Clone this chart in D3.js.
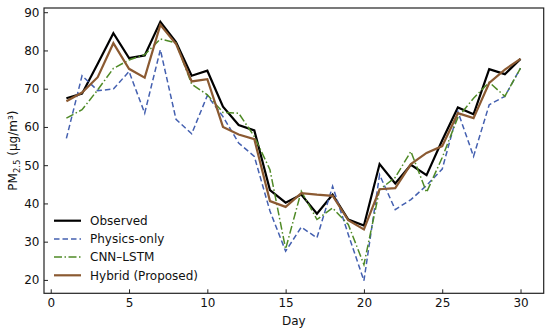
<!DOCTYPE html>
<html>
<head>
<meta charset="utf-8">
<script src="https://cdn.jsdelivr.net/npm/d3@7"></script>
<style>
  body { margin: 0; background: #fff; }
  svg { display: block; font-family: "DejaVu Sans", sans-serif; }
</style>
</head>
<body>
<div id="chart"></div>
<script>
// datos
const days = [1, 2, 3, 4, 5, 6, 7, 8, 9, 10, 11, 12, 13, 14, 15, 16, 17, 18, 19, 20, 21, 22, 23, 24, 25, 26, 27, 28, 29, 30];
const observed = [67.5, 68.7, 76.5, 84.5, 78, 78.7, 87.5, 82.2, 73.4, 74.7, 65.3, 60.5, 59.1, 43.5, 40.2, 42.3, 37.3, 42.3, 35.8, 34.2, 50.3, 45.2, 50.1, 47.4, 56.5, 65.1, 63.3, 75.1, 73.8, 77.8];
const physicsOnly = [57, 73.4, 69.5, 69.9, 74.5, 63.6, 80.2, 62, 58.2, 68.2, 62.7, 55.8, 52.3, 38, 27.5, 33.8, 31, 44.5, 31.9, 19.8, 47.5, 38.4, 41, 44.7, 49, 64, 52.3, 65.8, 68, 75.4];
const cnnLstm = [62.3, 64.5, 69.7, 75.3, 77.5, 78.9, 83, 82, 71.2, 68.4, 63.8, 63.6, 57.5, 48.8, 28.1, 43.2, 35.8, 38.8, 34.5, 24, 43.6, 46.8, 53.6, 42.9, 52, 62.5, 67.5, 71.7, 68, 75.4];
const hybrid = [66.7, 69, 73, 81.9, 75.2, 72.9, 86.7, 81.7, 71.9, 72.5, 60, 58, 56.8, 40.6, 39.1, 42.7, 42.3, 42, 35.6, 33.2, 43.7, 44, 50.3, 53.2, 55, 63.6, 62.3, 71.5, 75, 77.8];
const xTicks = [0, 5, 10, 15, 20, 25, 30];
const yTicks = [20, 30, 40, 50, 60, 70, 80, 90];

const series = [
  { name: "Observed", values: observed, color: "#000000", width: 2.2, dash: null },
  { name: "Physics-only", values: physicsOnly, color: "#4460b0", width: 1.5, dash: "5.5,3" },
  { name: "CNN\u2013LSTM", values: cnnLstm, color: "#4f8a26", width: 1.5, dash: "8,2.5,1.5,2.5" },
  { name: "Hybrid (Proposed)", values: hybrid, color: "#8b5a32", width: 2.2, dash: null }
];

const W = 550, H = 331;
const margin = { top: 8, right: 6.3, bottom: 37.7, left: 44 };
const width = W - margin.left - margin.right;
const height = H - margin.top - margin.bottom;
const fs = "12px";

const svg = d3.select("#chart")
  .append("svg")
  .attr("width", W)
  .attr("height", H);

const g = svg.append("g")
  .attr("transform", `translate(${margin.left},${margin.top})`);

const x = d3.scaleLinear().domain([-0.43, 31.48]).range([0, width]);
const y = d3.scaleLinear().domain([16.5, 91.1]).range([height, 0]);

// líneas
const linea = d3.line()
  .x((d, i) => x(days[i]))
  .y(d => y(d));

series.forEach(s => {
  g.append("path")
    .datum(s.values)
    .attr("fill", "none")
    .attr("stroke", s.color)
    .attr("stroke-width", s.width)
    .attr("stroke-dasharray", s.dash)
    .attr("d", linea);
});

// ejes (ticks hacia dentro)
const xAxis = g.append("g")
  .attr("transform", `translate(0,${height})`)
  .call(d3.axisBottom(x).tickValues(xTicks).tickSizeInner(-4).tickSizeOuter(0).tickPadding(5));
const yAxis = g.append("g")
  .call(d3.axisLeft(y).tickValues(yTicks).tickSizeInner(-4).tickSizeOuter(0).tickPadding(4.5));

[xAxis, yAxis].forEach(a => {
  a.select(".domain").remove();
  a.selectAll("line").attr("stroke", "#222").attr("stroke-width", 1);
  a.selectAll("text").attr("fill", "#111").style("font-size", fs).style("font-family", "DejaVu Sans, sans-serif");
});

// marco
g.append("rect")
  .attr("width", width)
  .attr("height", height)
  .attr("fill", "none")
  .attr("stroke", "#222")
  .attr("stroke-width", 1.2);

// etiquetas de ejes
svg.append("text")
  .attr("x", margin.left + width / 2)
  .attr("y", 325)
  .attr("text-anchor", "middle")
  .style("font-size", fs)
  .attr("fill", "#111")
  .text("Day");

const yl = svg.append("text")
  .attr("transform", `translate(17,${margin.top + height / 2}) rotate(-90)`)
  .attr("text-anchor", "middle")
  .style("font-size", fs)
  .attr("fill", "#111");
yl.append("tspan").text("PM");
yl.append("tspan").attr("dy", 3).style("font-size", "8.5px").text("2.5");
yl.append("tspan").attr("dy", -3).text(" (\u00b5g/m\u00b3)");

// leyenda
const legend = svg.append("g").attr("transform", "translate(54,220.7)");
series.forEach((s, i) => {
  const row = legend.append("g").attr("transform", `translate(0,${i * 18.2})`);
  row.append("line")
    .attr("x1", 0).attr("x2", 27)
    .attr("stroke", s.color)
    .attr("stroke-width", s.width)
    .attr("stroke-dasharray", s.dash);
  row.append("text")
    .attr("x", 36)
    .attr("y", 4.3)
    .style("font-size", fs)
    .attr("fill", "#111")
    .text(s.name);
});
</script>
</body>
</html>
